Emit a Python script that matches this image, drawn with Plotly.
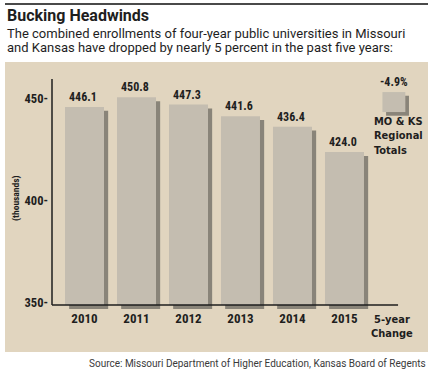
import plotly.graph_objects as go

years = ["2010", "2011", "2012", "2013", "2014", "2015"]
enroll = [446.1, 450.8, 447.3, 441.6, 436.4, 424.0]
change_label = "-4.9%"
ytick_vals = [350, 400, 450]
ytick_text = ["350-", "400-", "450-"]
legend_lines = ["MO & KS", "Regional", "Totals"]
change_lines = ["5-year", "Change"]

W, H = 432, 372
ML, MR, MT, MB = 52, 4, 79, 63
PW, PH = W - ML - MR, H - MT - MB

def px(x):
    return (x - ML) / PW

def py(y):
    return (H - MB - y) / PH

BAR = "#c4bdb0"
SHADOW = "#898479"
BG = "#e1d5bf"
DARK = "#1e1e1e"
FONT = "Roboto"
NUM = "Roboto Condensed, Liberation Sans Narrow, sans-serif"
COND = "DejaVu Sans Condensed, Roboto Condensed, sans-serif"

base = 349
xs = list(range(len(years)))
sh_dx = 0.08
sh_dy = 1.9

fig = go.Figure()
fig.add_trace(go.Bar(
    x=xs, y=[v - sh_dy - (base - sh_dy) for v in enroll], base=base - sh_dy,
    width=0.75, offset=-0.375 + sh_dx, marker=dict(color=SHADOW, line=dict(width=0)),
    hoverinfo="skip", showlegend=False,
))
fig.add_trace(go.Bar(
    x=xs, y=[v - base for v in enroll], base=base,
    width=0.75, offset=-0.375, marker=dict(color=BAR, line=dict(width=0)),
    showlegend=False,
))

ann = []
for x, v in zip(xs, enroll):
    ann.append(dict(x=x - 0.03, y=v, xref="x", yref="y", text=f"<b>{v:.1f}</b>",
                    showarrow=False, yanchor="bottom", yshift=1,
                    font=dict(family=NUM, size=12, color=DARK)))

cx = 5.9
shapes = [
    dict(type="rect", xref="paper", yref="paper", x0=px(5), x1=px(428), y0=py(352), y1=py(62),
         fillcolor=BG, line=dict(width=0), layer="below"),
    dict(type="line", xref="paper", yref="paper", x0=px(5), x1=px(428), y0=py(4), y1=py(4),
         line=dict(color="#4a4a4a", width=2)),
    dict(type="rect", xref="x", yref="y", x0=cx - 0.17 + 0.07, x1=cx + 0.27 + 0.07,
         y0=443.6 - 1.8, y1=453.4 - 1.8, fillcolor=SHADOW, line=dict(width=0)),
    dict(type="rect", xref="x", yref="y", x0=cx - 0.17, x1=cx + 0.27,
         y0=443.6, y1=453.4, fillcolor=BAR, line=dict(width=0)),
    dict(type="line", xref="paper", yref="y", x0=0, x1=0, y0=base, y1=459.8,
         line=dict(color=DARK, width=1.5)),
    dict(type="line", xref="x", yref="y", x0=-0.625, x1=6.03, y0=base, y1=base,
         line=dict(color=DARK, width=1.5)),
]

ann += [
    dict(x=px(5), y=py(15.5), xref="paper", yref="paper", xanchor="left", yanchor="middle",
         text="<b>Bucking Headwinds</b>", showarrow=False,
         font=dict(family=FONT, size=16, color=DARK)),
    dict(x=px(5), y=py(33), xref="paper", yref="paper", xanchor="left", yanchor="middle",
         text="The combined enrollments of four-year public universities in Missouri",
         showarrow=False, font=dict(family=FONT, size=13, color=DARK)),
    dict(x=px(5), y=py(47.5), xref="paper", yref="paper", xanchor="left", yanchor="middle",
         text="and Kansas have dropped by nearly 5 percent in the past five years:",
         showarrow=False, font=dict(family=FONT, size=13, color=DARK)),
    dict(x=px(428), y=py(363), xref="paper", yref="paper", xanchor="right", yanchor="middle",
         text="Source: Missouri Department of Higher Education, Kansas Board of Regents",
         showarrow=False, font=dict(family=FONT, size=10, color="#3a3a3a")),
    dict(x=px(16), y=py(198), xref="paper", yref="paper", xanchor="center", yanchor="middle",
         text="<b>(thousands)</b>", textangle=-90, showarrow=False,
         font=dict(family=NUM, size=9.5, color=DARK)),
    dict(x=cx + 0.05, y=453.4, xref="x", yref="y", yanchor="bottom", yshift=1,
         text=f"<b>{change_label}</b>", showarrow=False,
         font=dict(family=NUM, size=12, color=DARK)),
    dict(x=px(372), y=py(136), xref="paper", yref="paper", xanchor="left", yanchor="middle",
         text="<br>".join(f"<b>{l}</b>" for l in legend_lines), align="left",
         showarrow=False, font=dict(family=COND, size=11, color=DARK)),
    dict(x=px(392), y=py(326), xref="paper", yref="paper", xanchor="center", yanchor="middle",
         text="<br>".join(f"<b>{l}</b>" for l in change_lines), align="center",
         showarrow=False, font=dict(family=COND, size=11, color=DARK)),
]

fig.update_layout(
    width=W, height=H, margin=dict(l=ML, r=MR, t=MT, b=MB),
    paper_bgcolor="white", plot_bgcolor="rgba(0,0,0,0)",
    barmode="overlay", showlegend=False,
    xaxis=dict(range=[-0.625, 6.606], tickvals=xs, ticktext=[f"<b>{y}</b>" for y in years],
               showgrid=False, zeroline=False, showline=False, ticks="",
               tickfont=dict(family=NUM, size=13, color=DARK)),
    yaxis=dict(range=[347.06, 459.8], tickvals=ytick_vals,
               ticktext=[f"<b>{t}</b>" for t in ytick_text],
               showgrid=False, zeroline=False, showline=False, ticks="",
               ticklabelstandoff=3,
               tickfont=dict(family=NUM, size=12.5, color=DARK)),
    shapes=shapes, annotations=ann,
)
fig.write_html("out.html", config={"displayModeBar": False},
               post_script="document.body.style.margin='0';")
